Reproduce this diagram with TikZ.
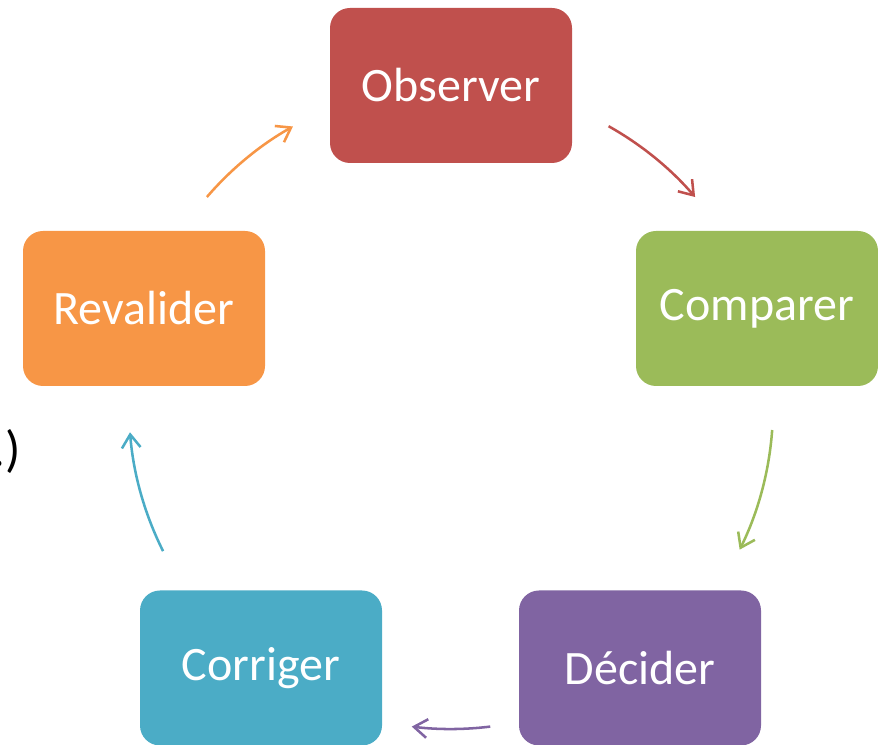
\documentclass[tikz,border=0pt]{standalone}
\usepackage{fontspec}
\setmainfont{Carlito}
\usetikzlibrary{arrows.meta}
\definecolor{cObs}{HTML}{C0504D}
\definecolor{cCmp}{HTML}{9BBB59}
\definecolor{cDec}{HTML}{8064A2}
\definecolor{cCor}{HTML}{4BACC6}
\definecolor{cRev}{HTML}{F79646}
\tikzset{
  stagebox/.style={rectangle, rounded corners=15pt, minimum width=181.5pt, minimum height=116.25pt,
    text=white, font=\fontsize{36}{43}\selectfont, inner sep=0pt},
  cyclearrow/.style={line width=1.9pt, -{Straight Barb[length=10pt,width=14pt,line width=1.9pt]}}
}
\begin{document}
\begin{tikzpicture}[x=0.75pt,y=0.75pt]
\useasboundingbox (0,0) rectangle (878,745);
\coordinate (ctr) at (451,338);
\node[stagebox, fill=cObs] (obs) at (451,659.5) {Observer};
\node[stagebox, fill=cCmp] (cmp) at (757,436.5) {Comparer};
\node[stagebox, fill=cDec] (dec) at (640,77) {Décider};
\node[stagebox, fill=cCor] (cor) at (261,77) {Corriger};
\node[stagebox, fill=cRev] (rev) at (144,436.5) {Revalider};
\node[anchor=base east, inner sep=0pt, font=\fontsize{38}{44}\selectfont] (frag) at (21,278) {.)};
\draw[cyclearrow, draw=cObs] (ctr) ++(60.7:241.5pt) arc[start angle=60.7, end angle=40.7, radius=241.5pt];
\draw[cyclearrow, draw=cCmp] (ctr) ++(-4.1:241.5pt) arc[start angle=-4.1, end angle=-26.3, radius=241.5pt];
\draw[cyclearrow, draw=cDec] (ctr) ++(-83:241.5pt) arc[start angle=-83, end angle=-97, radius=241.5pt];
\draw[cyclearrow, draw=cCor] (ctr) ++(-153.4:241.5pt) arc[start angle=-153.4, end angle=-175.5, radius=241.5pt];
\draw[cyclearrow, draw=cRev] (ctr) ++(139.3:241.5pt) arc[start angle=139.3, end angle=119.4, radius=241.5pt];
\end{tikzpicture}
\end{document}
